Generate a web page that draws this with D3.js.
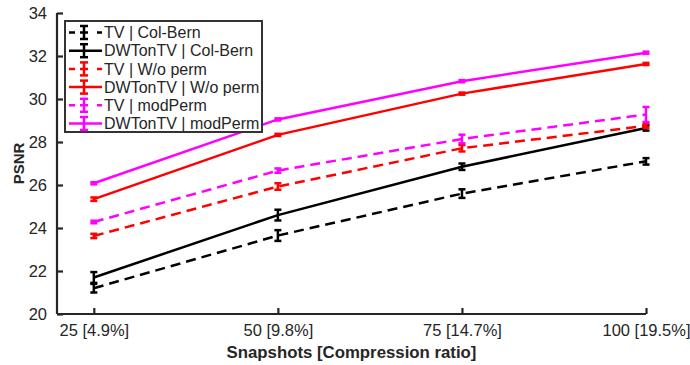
<!DOCTYPE html>
<html>
<head>
<meta charset="utf-8">
<script src="https://cdn.jsdelivr.net/npm/d3@7"></script>
<style>
  html, body { margin: 0; padding: 0; background: #fff; }
  svg { display: block; font-family: "Liberation Sans", Arial, sans-serif; }
</style>
</head>
<body>
<svg id="chart" width="690" height="365"></svg>
<script>
// ---- data ----
const snapshots = [25, 50, 75, 100];
const xTickLabels = ["25 [4.9%]", "50 [9.8%]", "75 [14.7%]", "100 [19.5%]"];
const yTicks = [20, 22, 24, 26, 28, 30, 32, 34];

const seriesNames = ["TV | Col-Bern", "DWTonTV | Col-Bern", "TV | W/o perm", "DWTonTV | W/o perm", "TV | modPerm", "DWTonTV | modPerm"];
const tvColBern = [21.2, 23.65, 25.6, 27.1];
const dwtColBern = [21.7, 24.6, 26.85, 28.65];
const tvWoPerm = [23.63, 25.93, 27.71, 28.75];
const dwtWoPerm = [25.34, 28.33, 30.25, 31.63];
const tvModPerm = [24.28, 26.67, 28.14, 29.28];
const dwtModPerm = [26.08, 29.05, 30.83, 32.15];

const errTvColBern = [0.2, 0.25, 0.2, 0.15];
const errDwtColBern = [0.25, 0.25, 0.15, 0.12];
const errTvWoPerm = [0.1, 0.15, 0.15, 0.1];
const errDwtWoPerm = [0.08, 0.05, 0.05, 0.05];
const errTvModPerm = [0.06, 0.1, 0.2, 0.35];
const errDwtModPerm = [0.05, 0.05, 0.05, 0.05];

const seriesValues = [tvColBern, dwtColBern, tvWoPerm, dwtWoPerm, tvModPerm, dwtModPerm];
const seriesErrors = [errTvColBern, errDwtColBern, errTvWoPerm, errDwtWoPerm, errTvModPerm, errDwtModPerm];
const seriesColors = ["#000000", "#000000", "#ff0000", "#ff0000", "#ff00ff", "#ff00ff"];
const seriesDashed = [true, false, true, false, true, false];

// ---- layout ----
const svg = d3.select("#chart");
const pLeft = 57, pRight = 646, pTop = 13, pBottom = 314;
const axisColor = "#262626";
const fontFamily = '"Liberation Sans", Arial, sans-serif';

const x = d3.scaleLinear().domain([20, 100]).range([pLeft, pRight]);
const y = d3.scaleLinear().domain([20, 34]).range([pBottom, pTop]);

// ---- series ----
const line = d3.line().x((d, i) => x(snapshots[i])).y(d => y(d));
const plot = svg.append("g");
seriesValues.forEach((vals, s) => {
  const g = plot.append("g");
  g.append("path")
    .attr("d", line(vals))
    .attr("fill", "none")
    .attr("stroke", seriesColors[s])
    .attr("stroke-width", 2.5)
    .attr("stroke-dasharray", seriesDashed[s] ? "10,6" : null);
  vals.forEach((v, i) => {
    const e = seriesErrors[s][i];
    const cx = x(snapshots[i]);
    const y1 = y(v - e), y2 = y(v + e);
    g.append("line").attr("x1", cx).attr("x2", cx).attr("y1", y1).attr("y2", y2)
      .attr("stroke", seriesColors[s]).attr("stroke-width", 2.5);
    [y1, y2].forEach(yy => {
      g.append("line").attr("x1", cx - 3.5).attr("x2", cx + 3.5).attr("y1", yy).attr("y2", yy)
        .attr("stroke", seriesColors[s]).attr("stroke-width", 2.5);
    });
  });
});

// ---- axes ----
const yAxis = d3.axisLeft(y).tickValues(yTicks).tickSize(-6).tickPadding(10).tickFormat(d3.format("d"));
const yg = svg.append("g").attr("transform", `translate(${pLeft},0)`).call(yAxis);
const xAxis = d3.axisBottom(x).tickValues(snapshots).tickSize(-6).tickPadding(10)
  .tickFormat((d, i) => xTickLabels[i]);
const xg = svg.append("g").attr("transform", `translate(0,${pBottom})`).call(xAxis);

[yg, xg].forEach(g => {
  g.select(".domain").attr("stroke", axisColor).attr("stroke-width", 2.2);
  g.selectAll(".tick line").attr("stroke", axisColor).attr("stroke-width", 2.2);
  g.selectAll(".tick text").attr("fill", axisColor)
    .style("font-family", fontFamily).style("font-size", "16.5px");
});
yg.select(".domain").attr("d", `M0,${pBottom}V${pTop}`);
xg.select(".domain").attr("d", `M${pLeft},0H${pRight}`);

// axis labels
svg.append("text")
  .attr("x", (pLeft + pRight) / 2).attr("y", 358)
  .attr("text-anchor", "middle")
  .attr("fill", axisColor)
  .style("font-family", fontFamily)
  .style("font-size", "16.8px").style("font-weight", "bold")
  .text("Snapshots [Compression ratio]");
svg.append("text")
  .attr("transform", `translate(24,${(pTop + pBottom) / 2}) rotate(-90)`)
  .attr("text-anchor", "middle")
  .attr("fill", axisColor)
  .style("font-family", fontFamily)
  .style("font-size", "15px").style("font-weight", "bold")
  .text("PSNR");

// ---- legend ----
const lg = svg.append("g");
lg.append("rect").attr("x", 65).attr("y", 21).attr("width", 197).attr("height", 111)
  .attr("fill", "#fff").attr("stroke", "#333").attr("stroke-width", 2);
seriesNames.forEach((name, s) => {
  const ry = 32.5 + s * 18.2;
  lg.append("line").attr("x1", 69).attr("x2", 102).attr("y1", ry).attr("y2", ry)
    .attr("stroke", seriesColors[s]).attr("stroke-width", 2.5)
    .attr("stroke-dasharray", seriesDashed[s] ? "6,5,8,9,6" : null);
  lg.append("line").attr("x1", 84).attr("x2", 84).attr("y1", ry - 6.5).attr("y2", ry + 6.5)
    .attr("stroke", seriesColors[s]).attr("stroke-width", 2.5);
  [ry - 6.5, ry + 6.5].forEach(yy => {
    lg.append("line").attr("x1", 80).attr("x2", 88).attr("y1", yy).attr("y2", yy)
      .attr("stroke", seriesColors[s]).attr("stroke-width", 2.5);
  });
  lg.append("text").attr("x", 104).attr("y", ry).attr("dy", "0.36em")
    .attr("fill", axisColor)
    .style("font-family", fontFamily)
    .style("font-size", "16px")
    .text(name);
});
</script>
</body>
</html>
